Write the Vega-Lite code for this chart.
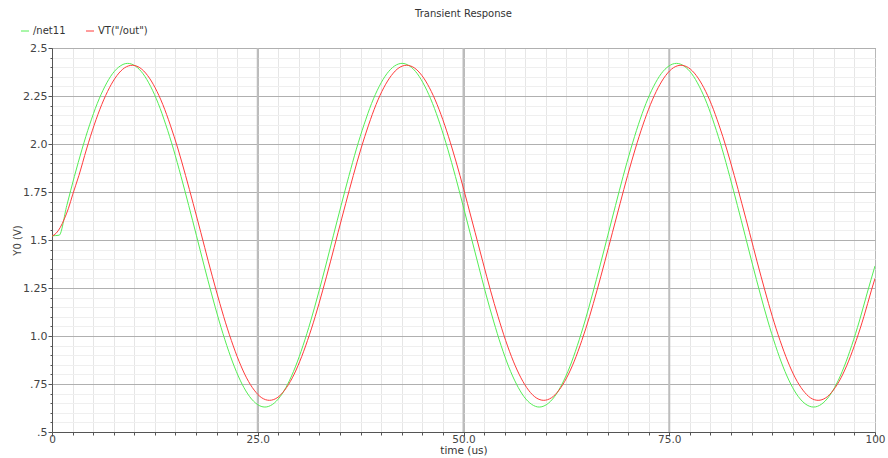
{
  "$schema": "https://vega.github.io/schema/vega-lite/v6.json",
  "width": 823,
  "height": 384,
  "autosize": "none",
  "padding": {"left": 52, "top": 48, "right": 13, "bottom": 26},
  "background": "white",
  "title": {"text": "Transient Response", "font": "DejaVu Sans", "fontSize": 10, "fontWeight": "normal", "color": "#333", "offset": 7, "anchor": "middle"},
  "encoding": {
    "x": {"field": "t", "type": "quantitative", "scale": {"domain": [0, 100], "nice": false, "zero": false},
      "axis": {"title": "time (us)", "values": [0,2.5,5,7.5,10,12.5,15,17.5,20,22.5,25,27.5,30,32.5,35,37.5,40,42.5,45,47.5,50,52.5,55,57.5,60,62.5,65,67.5,70,72.5,75,77.5,80,82.5,85,87.5,90,92.5,95,97.5,100],
        "labelExpr": "datum.value == 0 ? '0' : datum.value == 100 ? '100' : datum.value % 25 == 0 ? format(datum.value, '.1f') : ''",
        "grid": true,
        "gridColor": {"condition": {"test": "datum.value % 25 == 0", "value": "#b8b8b8"}, "value": "#e6e6e6"},
        "tickSize": {"condition": {"test": "datum.value % 25 == 0", "value": 4}, "value": 3},
        "tickColor": "#555", "domainColor": "#555", "labelFlush": false, "labelOverlap": false, "labelPadding": -2,
        "labelFont": "DejaVu Sans", "labelFontSize": 10.5, "labelColor": "#444",
        "titleFont": "DejaVu Sans", "titleFontSize": 10.5, "titleFontWeight": "normal", "titleColor": "#333",
        "titleY": 18, "titleBaseline": "middle"}},
    "y": {"field": "v", "type": "quantitative", "scale": {"domain": [0.5, 2.5], "nice": false, "zero": false},
      "axis": {"title": "Y0 (V)", "values": [0.5,0.55,0.6,0.65,0.7,0.75,0.8,0.85,0.9,0.95,1,1.05,1.1,1.15,1.2,1.25,1.3,1.35,1.4,1.45,1.5,1.55,1.6,1.65,1.7,1.75,1.8,1.85,1.9,1.95,2,2.05,2.1,2.15,2.2,2.25,2.3,2.35,2.4,2.45,2.5],
        "labelExpr": "abs(datum.value*4-round(datum.value*4))<0.001 ? (datum.value==2 ? '2.0' : datum.value==1 ? '1.0' : datum.value<1 ? replace(format(datum.value,'.2~f'),'0.','.') : format(datum.value,'.2~f')) : ''",
        "grid": true,
        "gridColor": {"condition": {"test": "abs(datum.value*4-round(datum.value*4))<0.001", "value": "#b0b0b0"}, "value": "#efefef"},
        "tickSize": {"condition": {"test": "abs(datum.value*4-round(datum.value*4))<0.001", "value": 4}, "value": 2},
        "tickColor": "#555", "domainColor": "#555", "labelFlush": false, "labelOverlap": false, "labelPadding": 1,
        "labelFont": "DejaVu Sans", "labelFontSize": 11, "labelColor": "#444",
        "titleFont": "DejaVu Sans", "titleFontSize": 10, "titleFontWeight": "normal", "titleColor": "#444",
        "titleX": -35, "titleY": 192, "titleAngle": -90, "titleAlign": "center", "titleBaseline": "middle"}}
  },
  "layer": [
    {
      "data": {"values": [{"g": 25}, {"g": 50}, {"g": 75}]},
      "mark": {"type": "rule", "color": "#bdbdbd", "strokeWidth": 2},
      "encoding": {"x": {"field": "g", "type": "quantitative"}, "y": {"value": 0}, "y2": {"value": 384}}
    },
    {
      "data": {"values": [
        {"t":0,"v":1.522},{"t":0.87,"v":1.525},{"t":1.80,"v":1.680},{"t":2.72,"v":1.831},{"t":3.65,"v":1.973},{"t":4.57,"v":2.100},{"t":5.50,"v":2.211},{"t":6.43,"v":2.300},{"t":7.35,"v":2.366},{"t":8.28,"v":2.406},{"t":9.20,"v":2.420},
        {"t":10.13,"v":2.406},{"t":11.06,"v":2.366},{"t":11.98,"v":2.300},{"t":12.91,"v":2.211},{"t":13.83,"v":2.100},{"t":14.76,"v":1.973},{"t":15.68,"v":1.831},{"t":16.61,"v":1.680},{"t":17.54,"v":1.525},{"t":18.46,"v":1.370},
        {"t":19.39,"v":1.219},{"t":20.31,"v":1.078},{"t":21.24,"v":0.950},{"t":22.17,"v":0.839},{"t":23.09,"v":0.750},{"t":24.02,"v":0.684},{"t":24.94,"v":0.644},{"t":25.87,"v":0.630},{"t":26.80,"v":0.644},{"t":27.72,"v":0.684},
        {"t":28.65,"v":0.750},{"t":29.57,"v":0.839},{"t":30.50,"v":0.950},{"t":31.43,"v":1.078},{"t":32.35,"v":1.219},{"t":33.28,"v":1.370},{"t":34.20,"v":1.525},{"t":35.13,"v":1.680},{"t":36.06,"v":1.831},{"t":36.98,"v":1.973},
        {"t":37.91,"v":2.100},{"t":38.83,"v":2.211},{"t":39.76,"v":2.300},{"t":40.69,"v":2.366},{"t":41.61,"v":2.406},{"t":42.54,"v":2.420},{"t":43.46,"v":2.406},{"t":44.39,"v":2.366},{"t":45.31,"v":2.300},{"t":46.24,"v":2.211},
        {"t":47.17,"v":2.100},{"t":48.09,"v":1.973},{"t":49.02,"v":1.831},{"t":49.94,"v":1.680},{"t":50.87,"v":1.525},{"t":51.80,"v":1.370},{"t":52.72,"v":1.219},{"t":53.65,"v":1.078},{"t":54.57,"v":0.950},{"t":55.50,"v":0.839},
        {"t":56.43,"v":0.750},{"t":57.35,"v":0.684},{"t":58.28,"v":0.644},{"t":59.20,"v":0.630},{"t":60.13,"v":0.644},{"t":61.06,"v":0.684},{"t":61.98,"v":0.750},{"t":62.91,"v":0.839},{"t":63.83,"v":0.950},{"t":64.76,"v":1.078},
        {"t":65.68,"v":1.219},{"t":66.61,"v":1.370},{"t":67.54,"v":1.525},{"t":68.47,"v":1.680},{"t":69.39,"v":1.831},{"t":70.32,"v":1.973},{"t":71.24,"v":2.100},{"t":72.17,"v":2.211},{"t":73.10,"v":2.300},{"t":74.02,"v":2.366},
        {"t":74.95,"v":2.406},{"t":75.87,"v":2.420},{"t":76.80,"v":2.406},{"t":77.73,"v":2.366},{"t":78.65,"v":2.300},{"t":79.58,"v":2.211},{"t":80.50,"v":2.100},{"t":81.43,"v":1.973},{"t":82.35,"v":1.831},{"t":83.28,"v":1.680},
        {"t":84.21,"v":1.525},{"t":85.13,"v":1.370},{"t":86.06,"v":1.219},{"t":86.98,"v":1.078},{"t":87.91,"v":0.950},{"t":88.84,"v":0.839},{"t":89.76,"v":0.750},{"t":90.69,"v":0.684},{"t":91.61,"v":0.644},{"t":92.54,"v":0.630},
        {"t":93.47,"v":0.644},{"t":94.39,"v":0.684},{"t":95.32,"v":0.750},{"t":96.24,"v":0.839},{"t":97.17,"v":0.950},{"t":98.10,"v":1.078},{"t":99.02,"v":1.219},{"t":100,"v":1.365}
      ]},
      "mark": {"type": "line", "strokeWidth": 1, "interpolate": "monotone", "clip": true},
      "encoding": {"color": {"datum": "/net11", "type": "nominal",
        "scale": {"domain": ["/net11", "VT(\"/out\")"], "range": ["#55ee55", "#ff3b3b"]},
        "legend": {"title": null}}}
    },
    {
      "data": {"values": [
        {"t":0,"v":1.52},{"t":0.5,"v":1.535},{"t":1.0,"v":1.565},{"t":1.5,"v":1.61},{"t":2.0,"v":1.665},{"t":2.5,"v":1.735},{"t":3.27,"v":1.836},{"t":4.20,"v":1.974},{"t":5.12,"v":2.098},{"t":6.05,"v":2.206},
        {"t":6.98,"v":2.293},{"t":7.90,"v":2.357},{"t":8.83,"v":2.397},{"t":9.75,"v":2.410},{"t":10.68,"v":2.397},{"t":11.61,"v":2.357},{"t":12.53,"v":2.293},{"t":13.46,"v":2.206},{"t":14.38,"v":2.098},{"t":15.31,"v":1.974},
        {"t":16.23,"v":1.836},{"t":17.16,"v":1.689},{"t":18.09,"v":1.538},{"t":19.01,"v":1.386},{"t":19.94,"v":1.239},{"t":20.86,"v":1.101},{"t":21.79,"v":0.977},{"t":22.72,"v":0.869},{"t":23.64,"v":0.782},{"t":24.57,"v":0.718},
        {"t":25.49,"v":0.678},{"t":26.42,"v":0.665},{"t":27.35,"v":0.678},{"t":28.27,"v":0.718},{"t":29.20,"v":0.782},{"t":30.12,"v":0.869},{"t":31.05,"v":0.977},{"t":31.98,"v":1.101},{"t":32.90,"v":1.239},{"t":33.83,"v":1.386},
        {"t":34.75,"v":1.538},{"t":35.68,"v":1.689},{"t":36.61,"v":1.836},{"t":37.53,"v":1.974},{"t":38.46,"v":2.098},{"t":39.38,"v":2.206},{"t":40.31,"v":2.293},{"t":41.24,"v":2.357},{"t":42.16,"v":2.397},{"t":43.09,"v":2.410},
        {"t":44.01,"v":2.397},{"t":44.94,"v":2.357},{"t":45.86,"v":2.293},{"t":46.79,"v":2.206},{"t":47.72,"v":2.098},{"t":48.64,"v":1.974},{"t":49.57,"v":1.836},{"t":50.49,"v":1.689},{"t":51.42,"v":1.538},{"t":52.35,"v":1.386},
        {"t":53.27,"v":1.239},{"t":54.20,"v":1.101},{"t":55.12,"v":0.977},{"t":56.05,"v":0.869},{"t":56.98,"v":0.782},{"t":57.90,"v":0.718},{"t":58.83,"v":0.678},{"t":59.75,"v":0.665},{"t":60.68,"v":0.678},{"t":61.61,"v":0.718},
        {"t":62.53,"v":0.782},{"t":63.46,"v":0.869},{"t":64.38,"v":0.977},{"t":65.31,"v":1.101},{"t":66.23,"v":1.239},{"t":67.16,"v":1.386},{"t":68.09,"v":1.538},{"t":69.02,"v":1.689},{"t":69.94,"v":1.836},{"t":70.87,"v":1.974},
        {"t":71.79,"v":2.098},{"t":72.72,"v":2.206},{"t":73.65,"v":2.293},{"t":74.57,"v":2.357},{"t":75.50,"v":2.397},{"t":76.42,"v":2.410},{"t":77.35,"v":2.397},{"t":78.28,"v":2.357},{"t":79.20,"v":2.293},{"t":80.13,"v":2.206},
        {"t":81.05,"v":2.098},{"t":81.98,"v":1.974},{"t":82.90,"v":1.836},{"t":83.83,"v":1.689},{"t":84.76,"v":1.538},{"t":85.68,"v":1.386},{"t":86.61,"v":1.239},{"t":87.53,"v":1.101},{"t":88.46,"v":0.977},{"t":89.39,"v":0.869},
        {"t":90.31,"v":0.782},{"t":91.24,"v":0.718},{"t":92.16,"v":0.678},{"t":93.09,"v":0.665},{"t":94.02,"v":0.678},{"t":94.94,"v":0.718},{"t":95.87,"v":0.782},{"t":96.79,"v":0.869},{"t":97.72,"v":0.977},{"t":98.65,"v":1.101},
        {"t":99.57,"v":1.239},{"t":100,"v":1.300}
      ]},
      "mark": {"type": "line", "strokeWidth": 1, "interpolate": "monotone", "clip": true},
      "encoding": {"color": {"datum": "VT(\"/out\")", "type": "nominal", "legend": {"title": null}}}
    }
  ],
  "config": {
    "font": "DejaVu Sans",
    "view": {"stroke": "#888", "strokeWidth": 1},
    "legend": {"orient": "none", "legendX": -32, "legendY": -22, "direction": "horizontal", "symbolType": "stroke", "symbolSize": 64, "symbolStrokeWidth": 1, "labelFont": "DejaVu Sans", "labelFontSize": 10, "labelColor": "#333", "columnPadding": 18, "padding": 0, "labelOffset": 3}
  }
}
